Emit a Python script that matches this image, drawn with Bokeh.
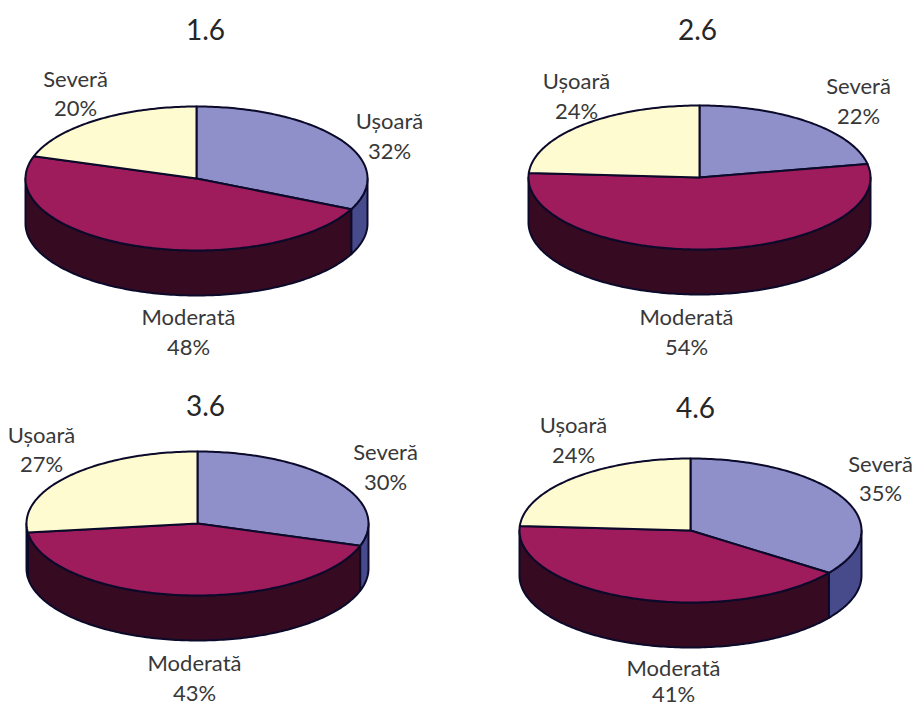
import numpy as np
from bokeh.core.properties import value
from bokeh.embed import file_html
from bokeh.models import Range1d
from bokeh.plotting import figure
from bokeh.resources import INLINE

# Survey shares per time point, clockwise from twelve o'clock
titles = ["1.6", "2.6", "3.6", "4.6"]
categories_1 = ["Ușoară", "Moderată", "Severă"]
values_1 = [32, 48, 20]
categories_2 = ["Severă", "Moderată", "Ușoară"]
values_2 = [22, 54, 24]
categories_3 = ["Severă", "Moderată", "Ușoară"]
values_3 = [30, 43, 27]
categories_4 = ["Severă", "Moderată", "Ușoară"]
values_4 = [35, 41, 24]

# Layout of each disc: centre of the top face in page pixels
centres = [(196, 178), (699, 177), (197, 523), (690, 530)]
RX, RY, DEPTH = 171, 72, 45
title_pos = [(205, 29), (697, 29), (205, 405), (695, 407)]
# Label anchors in slice order: (x, y of the name line, gap to the percentage line)
label_pos = [
    [(389, 120, 30), (188, 316, 30), (75, 78, 29)],
    [(858, 85, 30), (686, 316, 30), (576, 80, 30)],
    [(385, 451, 30), (194, 662, 30), (41, 434, 29)],
    [(880, 463, 29), (673, 667, 26), (573, 424, 30)],
]

TOP_COLORS = ["#8F8FC9", "#9E1B5C", "#FFFBD0"]
SIDE_COLORS = ["#474B8C", "#360A20", "#C8C49A"]
EDGE = "#0B0A2A"
TEXT = "#383838"
FONT = value("Lato")

p = figure(width=913, height=706, x_range=Range1d(0, 913), y_range=Range1d(706, 0),
           toolbar_location=None, output_backend="svg", min_border=0,
           outline_line_color=None, background_fill_color="white")
p.axis.visible = False
p.grid.visible = False


def rim(cx, cy, a, b, drop=0.0):
    """Points on the elliptical rim between clockwise angles a and b (degrees from top)."""
    t = np.radians(np.linspace(a, b, max(int(abs(b - a)), 2) + 1))
    return cx + RX * np.sin(t), cy - RY * np.cos(t) + drop


def draw_disc(centre, vals):
    cx, cy = centre
    edges = np.cumsum([0] + list(vals)) * 3.6

    # Outer wall, only the part facing the viewer (90 to 270 degrees)
    for i in range(len(vals)):
        a, b = max(edges[i], 90), min(edges[i + 1], 270)
        if b <= a:
            continue
        x1, y1 = rim(cx, cy, a, b)
        x2, y2 = rim(cx, cy, b, a, DEPTH)
        p.patch(np.r_[x1, x2], np.r_[y1, y2], fill_color=SIDE_COLORS[i],
                line_color=EDGE, line_width=2, line_join="round")

    # Top face
    for i in range(len(vals)):
        x, y = rim(cx, cy, edges[i], edges[i + 1])
        p.patch(np.r_[cx, x], np.r_[cy, y], fill_color=TOP_COLORS[i],
                line_color=EDGE, line_width=2, line_join="round")


def draw_labels(title, t_pos, names, vals, positions):
    p.text([t_pos[0]], [t_pos[1]], text=[title], text_font=FONT, text_font_size="28px",
           text_color="#262626", text_align="center", text_baseline="middle")
    for name, v, (x, y, gap) in zip(names, vals, positions):
        p.text([x, x], [y, y + gap], text=[name, f"{v}%"], text_font=FONT,
               text_font_size="22px", text_color=TEXT, text_align="center",
               text_baseline="middle")


all_names = [categories_1, categories_2, categories_3, categories_4]
all_values = [values_1, values_2, values_3, values_4]

for c, vals in zip(centres, all_values):
    draw_disc(c, vals)
for i in range(4):
    draw_labels(titles[i], title_pos[i], all_names[i], all_values[i], label_pos[i])

open("out.html", "w").write(file_html(p, INLINE))
